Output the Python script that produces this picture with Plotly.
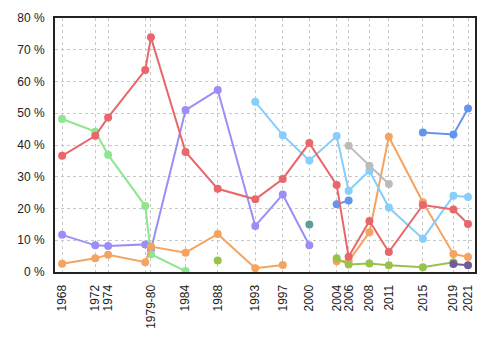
import plotly.graph_objects as go

dates = ["1968-06-25", "1972-10-30", "1974-07-08", "1979-05-22", "1980-02-18",
         "1984-09-04", "1988-11-21", "1993-10-25", "1997-06-02", "2000-11-27",
         "2004-06-28", "2006-01-23", "2008-10-14", "2011-05-02", "2015-10-19",
         "2019-10-21", "2021-09-20"]
tick_labels = ["1968", "1972", "1974", "", "1979-80", "1984", "1988", "1993", "1997",
               "2000", "2004", "2006", "2008", "2011", "2015", "2019", "2021"]
N = None
liberal = [36.6, 42.9, 48.7, 63.6, 73.9, 37.8, 26.2, 22.9, 29.3, 40.6, 27.4, 4.8, 16.1, 6.3, 21.1, 19.7, 15.1]
pc = [11.7, 8.4, 8.2, 8.7, 7.0, 51.0, 57.3, 14.5, 24.4, 8.4, N, N, N, N, N, N, N]
creditiste = [48.2, 44.2, 36.9, 20.8, 5.6, 0.3, N, N, N, N, N, N, N, N, N, N, N]
ndp = [2.6, 4.3, 5.4, 3.1, 8.0, 6.1, 12.0, 1.2, 2.2, N, 3.4, 3.5, 12.5, 42.6, 22.0, 5.7, 4.7]
bloc = [N, N, N, N, N, N, N, 53.6, 43.1, 35.1, 42.8, 25.6, 31.9, 20.3, 10.5, 24.0, 23.6]
alliance = [N, N, N, N, N, N, N, N, N, 15.0, N, N, N, N, N, N, N]
green = [N, N, N, N, N, N, 3.6, N, N, N, 4.3, 2.4, 2.7, 2.1, 1.5, 3.1, N]
independent = [N, N, N, N, N, N, N, N, N, N, N, 39.8, 33.5, 27.7, N, N, N]
conservative = [N, N, N, N, N, N, N, N, N, N, 21.3, 22.5, N, N, 43.9, 43.3, 51.5]
ppc = [N, N, N, N, N, N, N, N, N, N, N, N, N, N, N, 2.5, 2.1]

series = [
    ("PC", pc, "#9B8EF7"),
    ("Créditiste", creditiste, "#8EE68E"),
    ("NPD", ndp, "#F4A460"),
    ("Bloc", bloc, "#87CEFA"),
    ("Alliance", alliance, "#5F9E98"),
    ("Vert", green, "#99C24D"),
    ("Indépendant", independent, "#BBBBBB"),
    ("Conservateur", conservative, "#6495ED"),
    ("PPC", ppc, "#6F5D9A"),
    ("Libéral", liberal, "#E8676B"),
]

fig = go.Figure()
for name, vals, col in series:
    fig.add_trace(go.Scatter(x=dates, y=vals, name=name, mode="lines+markers",
                             line=dict(color=col, width=2),
                             marker=dict(color=col, size=8),
                             connectgaps=False))

fig.update_layout(
    width=500, height=350,
    margin=dict(l=55, r=25, t=18, b=78),
    paper_bgcolor="white", plot_bgcolor="white",
    showlegend=False,
    font=dict(family="Liberation Sans, Arial, sans-serif", size=12, color="#222"),
)
fig.update_xaxes(
    type="date",
    range=["1967-07-20", "2022-08-20"],
    tickmode="array", tickvals=dates, ticktext=tick_labels,
    tickangle=-90,
    showgrid=True, gridcolor="#c8c8c8", griddash="dot", gridwidth=1,
    showline=True, linecolor="#222", linewidth=2, mirror=True,
    ticks="", ticklabelstandoff=6, zeroline=False,
)
fig.update_yaxes(
    range=[0, 80], tickvals=[0, 10, 20, 30, 40, 50, 60, 70, 80],
    ticktext=[f"{v} %" for v in range(0, 90, 10)],
    showgrid=True, gridcolor="#c8c8c8", griddash="dot", gridwidth=1,
    showline=True, linecolor="#222", linewidth=2, mirror=True,
    ticks="", ticklabelstandoff=6, zeroline=False,
)
fig.write_html("out.html")
